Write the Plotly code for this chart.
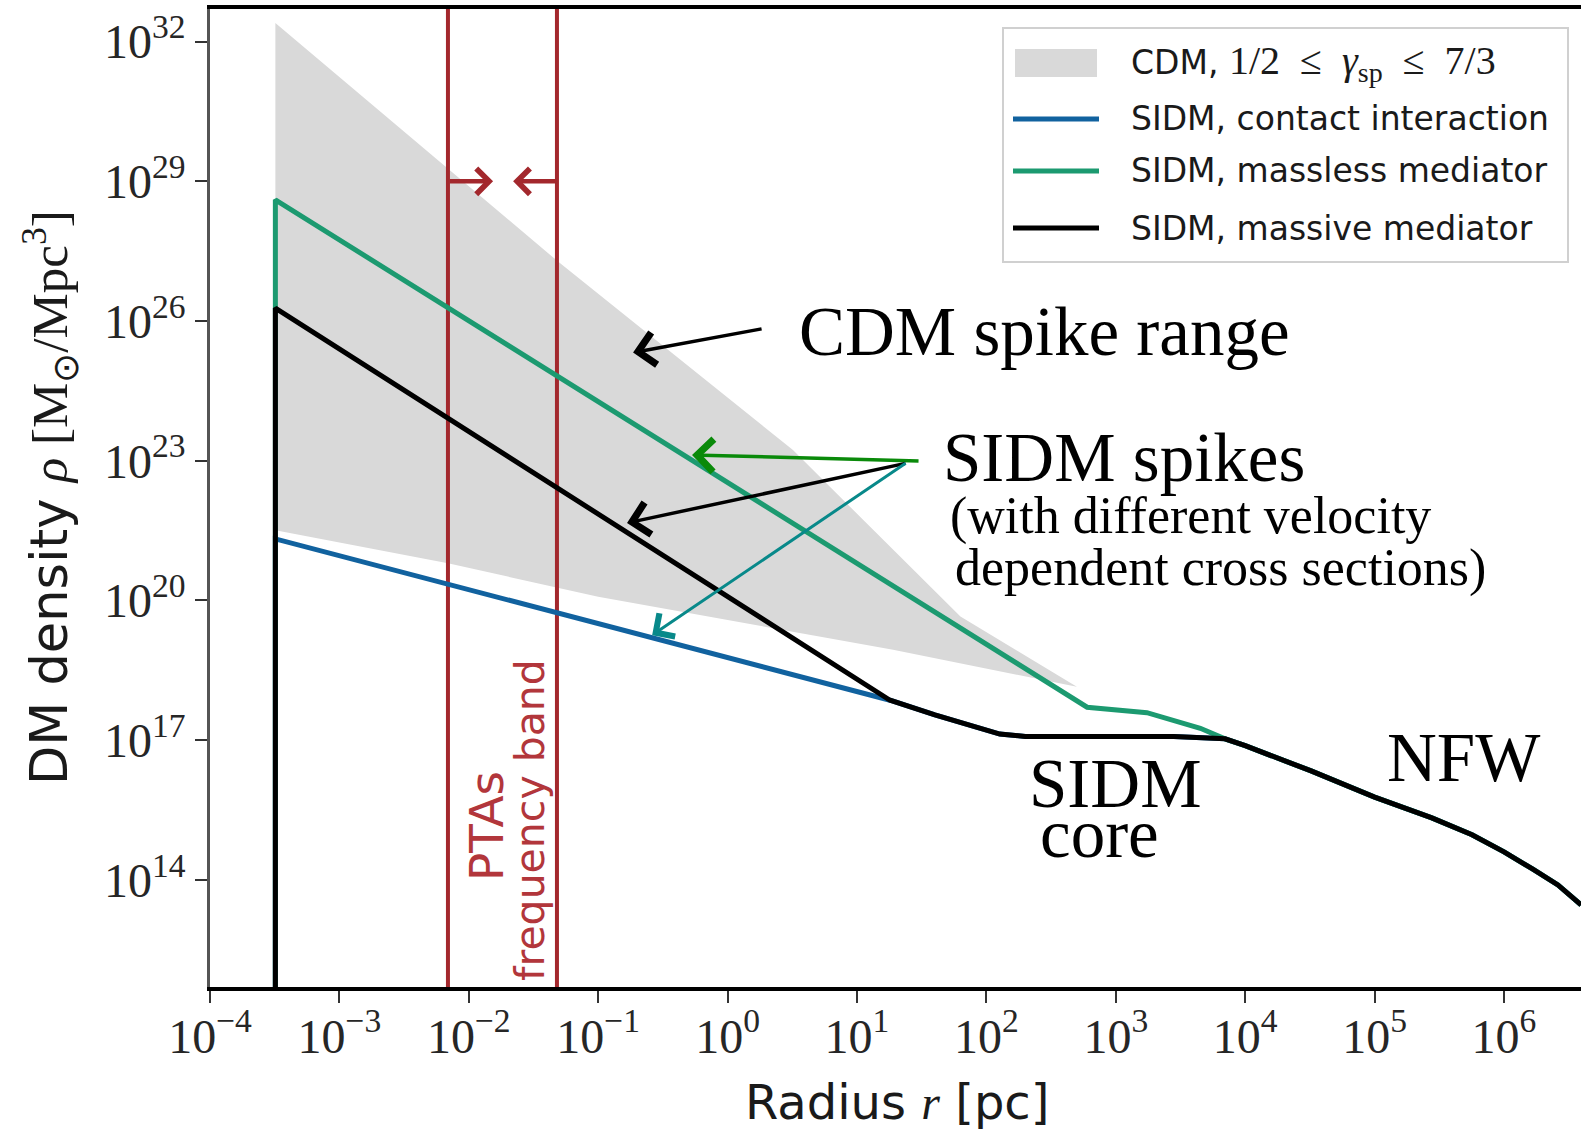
import math
import plotly.graph_objects as go

# ---------------- data ----------------
R_CAPTURE = 3.2e-4      # inner cut-off radius [pc]
RHO_FLOOR = 1e11        # below the axis, gives the vertical drop

# CDM spike range (gray band): upper edge (gamma=7/3) and lower edge (gamma=1/2)
band_upper_r = [3.2e-4, 5.0e-2, 3.2, 63, 500]
band_upper_rho = [2.5e32, 1.8e27, 1.7e23, 4.5e19, 1.4e18]
band_lower_r = [3.2e-4, 6.9e-3, 0.10, 19, 500]
band_lower_rho = [3.2e21, 6.3e20, 1.2e20, 8.7e18, 1.4e18]

# SIDM spikes
contact_r = [R_CAPTURE, R_CAPTURE, 18]
contact_rho = [RHO_FLOOR, 2.1e21, 7.2e17]
massive_r = [R_CAPTURE, R_CAPTURE, 18]
massive_rho = [RHO_FLOOR, 1.9e26, 7.2e17]
massless_r = [R_CAPTURE, R_CAPTURE, 600, 1740, 4500]
massless_rho = [RHO_FLOOR, 4.0e28, 5.1e17, 3.9e17, 1.8e17]

# SIDM core and outer NFW profile
core_r = [40, 127, 200, 2800]
core_rho = [3.5e17, 1.35e17, 1.2e17, 1.2e17]
nfw_r = [6980, 1e4, 3.23e4, 1e5, 2.77e5, 5.66e5, 1e6, 1.67e6, 2.61e6, 3.94e6]
nfw_rho = [1.07e17, 7.6e16, 2.19e16, 6.0e15, 2.14e15, 9.3e14, 4.0e14, 1.7e14, 7.8e13, 2.9e13]

# PTA frequency band edges [pc]
pta_band = [6.9e-3, 4.8e-2]
pta_arrow_tips = [1.54e-2, 2.2e-2]
pta_arrow_rho = 1e29

x_tick_exp = [-4, -3, -2, -1, 0, 1, 2, 3, 4, 5, 6]
y_tick_exp = [14, 17, 20, 23, 26, 29, 32]

legend_labels = [
    "CDM, <span style='font-family:Liberation Serif;font-size:40px'>1/2 \u00a0≤\u00a0 <i>γ</i><sub>sp</sub> \u00a0≤\u00a0 7/3</span>",
    "SIDM, contact interaction",
    "SIDM, massless mediator",
    "SIDM, massive mediator",
]

# ---------------- styling ----------------
W, H = 1581, 1131
ML, MR, MT, MB = 210, 0, 9, 144
PW, PH = W - ML - MR, H - MT - MB

C_BAND = "rgb(217,217,217)"
C_BLUE = "#11629f"
C_GREEN = "#1c9a70"
C_BLACK = "#000000"
C_RED = "#a3282d"
C_RED_TXT = "#b2363b"
SANS = "DejaVu Sans"
SERIF = "Liberation Serif"


def px(xp):
    return (xp - ML) / PW


def py(yp):
    return 1 - (yp - MT) / PH


def minus(e):
    return str(e).replace("-", "\u2212")


fig = go.Figure()

# gray band polygon
fig.add_trace(go.Scatter(
    x=band_upper_r + band_lower_r[::-1],
    y=band_upper_rho + band_lower_rho[::-1],
    fill="toself", fillcolor=C_BAND, mode="lines",
    line=dict(width=0, color=C_BAND), hoverinfo="skip", showlegend=False))

# PTA band lines
for rb in pta_band:
    fig.add_trace(go.Scatter(x=[rb, rb], y=[RHO_FLOOR, 1e34], mode="lines",
                             line=dict(color=C_RED, width=4), showlegend=False,
                             hoverinfo="skip"))

# SIDM curves (blue, green, then black on top)
fig.add_trace(go.Scatter(x=contact_r + core_r + nfw_r, y=contact_rho + core_rho + nfw_rho,
                         mode="lines", line=dict(color=C_BLUE, width=5), showlegend=False))
fig.add_trace(go.Scatter(x=massless_r + nfw_r, y=massless_rho + nfw_rho,
                         mode="lines", line=dict(color=C_GREEN, width=5), showlegend=False))
fig.add_trace(go.Scatter(x=massive_r + core_r + nfw_r, y=massive_rho + core_rho + nfw_rho,
                         mode="lines", line=dict(color=C_BLACK, width=5), showlegend=False))

annotations = []
shapes = []

# PTA arrows
for tip, off in zip(pta_arrow_tips, [-45, 44]):
    annotations.append(dict(x=math.log10(tip), y=math.log10(pta_arrow_rho), xref="x", yref="y",
                            ax=off, ay=0, text="", showarrow=True, arrowhead=4,
                            arrowsize=1.1, arrowwidth=4.5, arrowcolor=C_RED))

# PTA text (rotated)
annotations.append(dict(x=px(486), y=py(826), xref="paper", yref="paper", text="PTAs",
                        textangle=-90, showarrow=False, xanchor="center", yanchor="middle",
                        font=dict(family=SANS, size=47, color=C_RED_TXT)))
annotations.append(dict(x=px(530), y=py(820), xref="paper", yref="paper", text="frequency band",
                        textangle=-90, showarrow=False, xanchor="center", yanchor="middle",
                        font=dict(family=SANS, size=41, color=C_RED_TXT)))

# big annotations
big = [
    ("CDM spike range", 797, 332, "left", 69),
    ("SIDM spikes", 941, 458, "left", 69),
    ("(with different velocity", 948, 516, "left", 52),
    ("dependent cross sections)", 953, 568, "left", 52),
    ("SIDM", 1115, 784, "center", 69),
    ("core", 1099, 834, "center", 69),
    ("NFW", 1463, 758, "center", 69),
]
for txt, xx, yy, anc, fs in big:
    annotations.append(dict(x=px(xx), y=py(yy), xref="paper", yref="paper", text=txt,
                            showarrow=False, xanchor=anc, yanchor="middle",
                            font=dict(family=SERIF, size=fs, color="black")))

# pointer arrows (tip in data coords, tail as pixel offset)
arrows = [
    (0.186, 2.1e25, 130, -24, "black", 3.5),
    (0.531, 1.33e23, 228, 6, "#0a8a0a", 3.5),
    (0.167, 4.6e21, 280, -60, "black", 3.5),
    (0.261, 1.8e19, 255, -173, "#08898a", 3),
]
for tr, trho, dx, dy, col, wd in arrows:
    annotations.append(dict(x=math.log10(tr), y=math.log10(trho), xref="x", yref="y",
                            ax=dx, ay=dy, text="", showarrow=True, arrowhead=4,
                            arrowsize=1.8, arrowwidth=wd, arrowcolor=col))

# axis titles
annotations.append(dict(
    x=px(50), y=py(498), xref="paper", yref="paper", textangle=-90, showarrow=False,
    xanchor="center", yanchor="middle",
    text="DM density <span style='font-family:Liberation Serif'><i>ρ</i> [M<sub>⊙</sub>/Mpc<sup>3</sup>]</span>",
    font=dict(family=SANS, size=51, color="#1a1a1a")))
annotations.append(dict(
    x=px(897), y=py(1102), xref="paper", yref="paper", showarrow=False,
    xanchor="center", yanchor="middle",
    text="Radius <span style='font-family:Liberation Serif'><i>r</i></span> [pc]",
    font=dict(family=SANS, size=48, color="#1a1a1a")))

# manual legend
shapes.append(dict(type="rect", xref="paper", yref="paper", x0=px(1003), x1=px(1568),
                   y0=py(262), y1=py(28), line=dict(color="#d0d0d0", width=2),
                   fillcolor="rgba(255,255,255,0.85)", layer="above"))
rows = [63, 119, 171, 228]
shapes.append(dict(type="rect", xref="paper", yref="paper", x0=px(1015), x1=px(1097),
                   y0=py(77), y1=py(49), line=dict(width=0), fillcolor=C_BAND, layer="above"))
for yy, col in zip(rows[1:], [C_BLUE, C_GREEN, C_BLACK]):
    shapes.append(dict(type="line", xref="paper", yref="paper", x0=px(1013), x1=px(1099),
                       y0=py(yy), y1=py(yy), line=dict(color=col, width=5), layer="above"))
for yy, lab in zip(rows, legend_labels):
    annotations.append(dict(x=px(1129), y=py(yy), xref="paper", yref="paper", text=lab,
                            showarrow=False, xanchor="left", yanchor="middle",
                            font=dict(family=SANS, size=33, color="#1a1a1a")))

fig.update_layout(
    width=W, height=H,
    margin=dict(l=ML, r=MR, t=MT, b=MB, pad=0),
    paper_bgcolor="white", plot_bgcolor="white",
    showlegend=False,
    annotations=annotations, shapes=shapes,
    xaxis=dict(type="log", range=[-4, 6.595], showgrid=False, zeroline=False,
               showline=True, linecolor="black", linewidth=4, mirror=True,
               ticks="outside", ticklen=12, tickwidth=2, tickcolor="#333",
               ticklabelstandoff=-8,
               tickvals=[10.0 ** e for e in x_tick_exp],
               ticktext=["10<sup>%s</sup>" % minus(e) for e in x_tick_exp],
               tickfont=dict(family=SERIF, size=48, color="#262626")),
    yaxis=dict(type="log", range=[11.70, 32.70], showgrid=False, zeroline=False,
               showline=True, linecolor="#555", linewidth=2.5,
               ticks="outside", ticklen=12, tickwidth=2, tickcolor="#333",
               tickvals=[10.0 ** e for e in y_tick_exp],
               ticktext=["10<sup>%d</sup>" % e for e in y_tick_exp],
               tickfont=dict(family=SERIF, size=48, color="#262626")),
)

fig.write_html("out.html")
